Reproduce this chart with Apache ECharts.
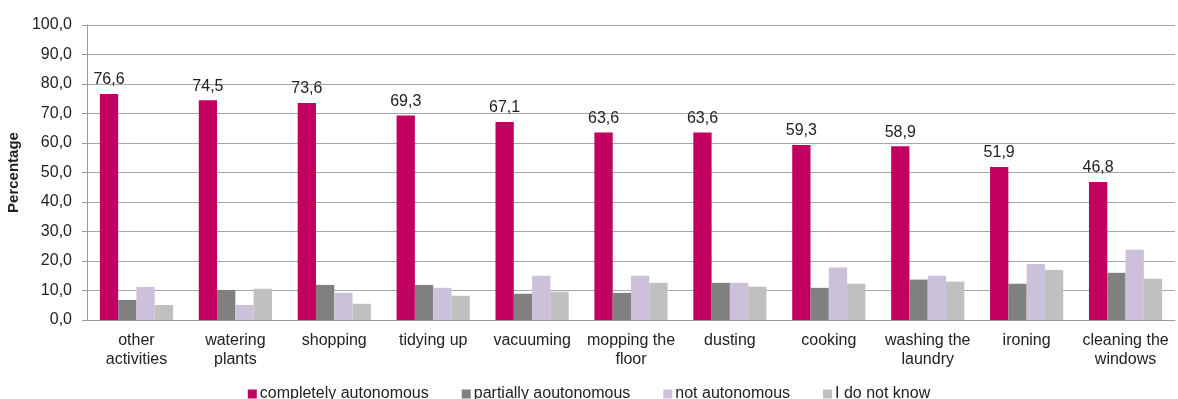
<!DOCTYPE html>
<html>
<head>
<meta charset="utf-8">
<script src="https://cdn.jsdelivr.net/npm/echarts@6/dist/echarts.min.js"></script>
<style>
  html, body { margin: 0; padding: 0; background: #fff; }
  #chart { width: 1178px; height: 399px; }
</style>
</head>
<body>
<div id="chart"></div>
<script>
var categories = ['other\nactivities', 'watering\nplants', 'shopping', 'tidying up', 'vacuuming',
                  'mopping the\nfloor', 'dusting', 'cooking', 'washing the\nlaundry', 'ironing',
                  'cleaning the\nwindows'];
var completely = [76.6, 74.5, 73.6, 69.3, 67.1, 63.6, 63.6, 59.3, 58.9, 51.9, 46.8];
var partially  = [6.8, 10.2, 11.9, 11.9, 8.9, 9.2, 12.6, 10.9, 13.7, 12.3, 16.0];
var notAuto    = [11.2, 5.1, 9.2, 10.9, 15.0, 15.0, 12.6, 17.8, 15.0, 19.0, 23.8];
var dontKnow   = [5.1, 10.6, 5.5, 8.2, 9.6, 12.6, 11.3, 12.3, 13.0, 17.0, 14.0];
var seriesNames = ['completely autonomous', 'partially aoutonomous', 'not autonomous', 'I do not know'];

var FONT = '"Liberation Sans", Arial, sans-serif';
function fmt(v) { return v.toFixed(1).replace('.', ','); }

var chart = echarts.init(document.getElementById('chart'));
chart.setOption({
    animation: false,
    textStyle: { fontFamily: FONT },
    grid: { left: 87, right: 3, top: 25, bottom: 79, outerBoundsMode: 'none' },
    legend: {
        data: seriesNames,
        top: 381,
        left: 'center',
        icon: 'rect',
        itemWidth: 9,
        itemHeight: 9,
        itemGap: 33,
        textStyle: { fontFamily: FONT, fontSize: 16, color: '#222', padding: [0, 0, 0, -2] }
    },
    xAxis: {
        type: 'category',
        data: categories,
        axisLine: { lineStyle: { color: '#9a9a9a', width: 1 } },
        axisTick: { show: false },
        axisLabel: { interval: 0, fontSize: 16, color: '#222', lineHeight: 19, margin: 11 }
    },
    yAxis: {
        type: 'value',
        min: 0,
        max: 100,
        interval: 10,
        name: 'Percentage',
        nameLocation: 'middle',
        nameGap: 61,
        nameTextStyle: { fontWeight: 'bold', fontSize: 15, color: '#222' },
        axisLine: { show: true, lineStyle: { color: '#9a9a9a' } },
        axisTick: { show: true, length: 5, lineStyle: { color: '#9a9a9a' } },
        axisLabel: { formatter: fmt, fontSize: 16, color: '#222', margin: 15 },
        splitLine: { lineStyle: { color: '#a6a6a6', width: 1 } }
    },
    series: [
        { name: seriesNames[0], type: 'bar', data: completely, barGap: 0, barCategoryGap: '26%',
          itemStyle: { color: '#c2005f' },
          label: { show: true, position: 'top', distance: 6, fontSize: 16, color: '#222',
                   formatter: function (p) { return fmt(p.value); } } },
        { name: seriesNames[1], type: 'bar', data: partially, barGap: 0, itemStyle: { color: '#808080' } },
        { name: seriesNames[2], type: 'bar', data: notAuto, barGap: 0, itemStyle: { color: '#ccc1da' } },
        { name: seriesNames[3], type: 'bar', data: dontKnow, barGap: 0, itemStyle: { color: '#c0c0c0' } }
    ]
});
</script>
</body>
</html>
